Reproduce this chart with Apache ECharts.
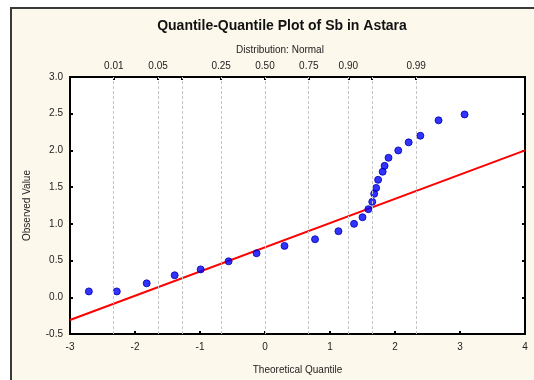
<!DOCTYPE html>
<html><head><meta charset="utf-8">
<script src="https://cdn.jsdelivr.net/npm/echarts@6/dist/echarts.min.js"></script>
<style>html,body{margin:0;padding:0;background:#fff}#c{width:534px;height:380px}</style>
</head><body><div id="c"></div>
<script>
// Theoretical quantiles (x) and observed values (y)
const theoQ = [-2.71,-2.28,-1.82,-1.39,-0.99,-0.56,-0.13,0.30,0.77,1.13,1.37,1.50,1.59,1.65,1.68,1.71,1.74,1.81,1.84,1.90,2.05,2.21,2.39,2.67,3.07];
const observed = [0.08,0.08,0.19,0.30,0.38,0.49,0.60,0.70,0.79,0.90,1.00,1.09,1.20,1.30,1.41,1.49,1.60,1.71,1.79,1.90,2.00,2.11,2.20,2.41,2.49];
// Reference line endpoints
const fitLine = [[-3,-0.31],[4,2.00]];
// Top probability axis
const probTickZ = [-2.326,-1.645,-1.282,-0.674,0,0.674,1.282,1.645,2.326];
const probLabelZ = [-2.326,-1.645,-0.674,0,0.674,1.282,2.326];
const probLabels = ['0.01','0.05','0.25','0.50','0.75','0.90','0.99'];
const xTicks = [-3,-2,-1,0,1,2,3,4];
const yTicks = [-0.5,0,0.5,1.0,1.5,2.0,2.5,3.0];

const FONT = 'Liberation Sans';
const chart = echarts.init(document.getElementById('c'));
chart.setOption({
  animation:false,
  textStyle:{fontFamily:FONT},
  graphic:[{type:'rect',z:-100,silent:true,shape:{x:11,y:8,width:560,height:420},
    style:{fill:'#fdf8ec',stroke:'#3a3a3a',lineWidth:2}}],
  title:[
    {text:'Quantile-Quantile Plot of Sb in Astara',left:277,top:14,textAlign:'center',
     textStyle:{fontFamily:FONT,fontSize:14,fontWeight:'bold',color:'#111'}},
    {text:'Distribution: Normal',left:275,top:40,textAlign:'center',
     textStyle:{fontFamily:FONT,fontSize:10,fontWeight:'normal',color:'#222'}}
  ],
  grid:{left:70,right:9,top:77,bottom:42,show:true,backgroundColor:'#fff',borderColor:'#000',borderWidth:2},
  xAxis:[
    {type:'value',min:xTicks[0],max:xTicks[xTicks.length-1],interval:1,position:'bottom',
     name:'Theoretical Quantile',nameLocation:'middle',nameGap:31,
     nameTextStyle:{fontFamily:FONT,fontSize:10,color:'#222'},
     axisLine:{show:false,onZero:false},axisTick:{inside:true,length:3,lineStyle:{color:'#000',width:2}},
     axisLabel:{fontFamily:FONT,fontSize:10,color:'#222',margin:8},splitLine:{show:false}},
    {type:'value',min:xTicks[0],max:xTicks[xTicks.length-1],position:'top',
     axisLine:{show:false,onZero:false},
     axisTick:{inside:true,length:3,customValues:probTickZ,lineStyle:{color:'#000',width:2}},
     axisLabel:{fontFamily:FONT,fontSize:10,color:'#222',margin:6,customValues:probLabelZ,
       formatter:function(v){let bi=0,bd=1e9;probLabelZ.forEach((z,i)=>{const d=Math.abs(z-v);if(d<bd){bd=d;bi=i;}});return probLabels[bi];}},
     splitLine:{show:false}}
  ],
  yAxis:[
    {type:'value',min:yTicks[0],max:yTicks[yTicks.length-1],interval:0.5,position:'left',
     name:'Observed Value',nameLocation:'middle',nameGap:38,
     nameTextStyle:{fontFamily:FONT,fontSize:10,color:'#222'},
     axisLine:{show:false,onZero:false},axisTick:{inside:true,length:3,lineStyle:{color:'#000',width:2}},
     axisLabel:{fontFamily:FONT,fontSize:10,color:'#222',margin:7,formatter:v=>v.toFixed(1)},splitLine:{show:false}},
    {type:'value',min:yTicks[0],max:yTicks[yTicks.length-1],interval:0.5,position:'right',
     axisLine:{show:false,onZero:false},axisTick:{inside:true,length:3,lineStyle:{color:'#000',width:2}},
     axisLabel:{show:false},splitLine:{show:false}}
  ],
  series:[
    {type:'line',data:fitLine,showSymbol:false,symbol:'none',lineStyle:{color:'#ff0000',width:2},z:3,silent:true,
     markLine:{silent:true,symbol:'none',label:{show:false},lineStyle:{color:'#c4c4c4',type:[3,2],width:1},
       data:probTickZ.map(z=>({xAxis:z}))}},
    {type:'scatter',data:theoQ.map((x,i)=>[x,observed[i]]),symbol:'circle',symbolSize:7,z:4,
     itemStyle:{color:'#0000ff',borderColor:'#0000a8',borderWidth:1}}
  ]
});
</script></body></html>
